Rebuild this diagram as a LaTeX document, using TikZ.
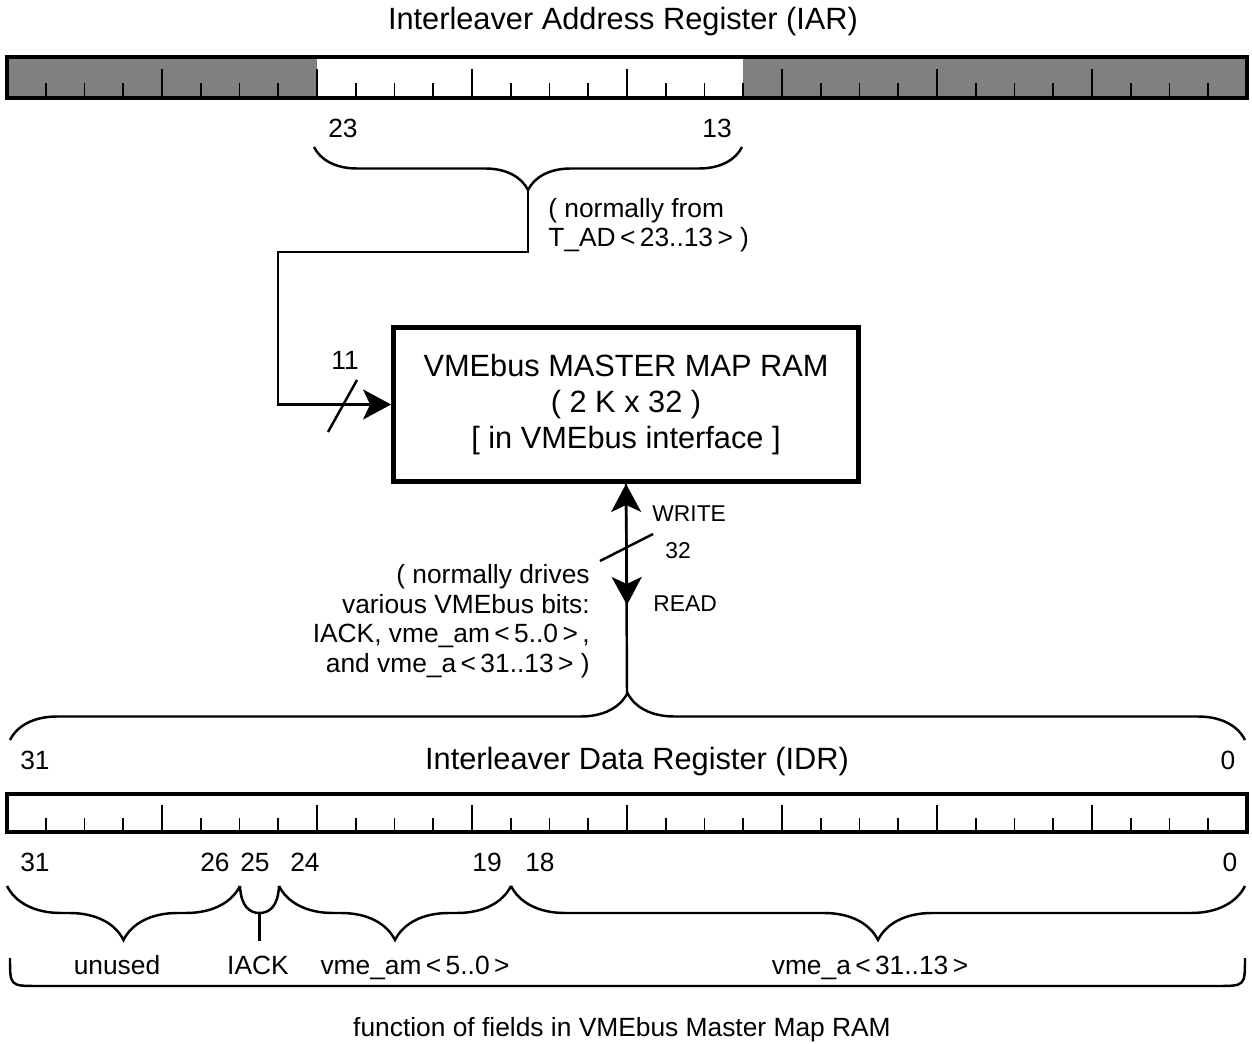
\documentclass[tikz,border=0pt]{standalone}
\usepackage{fontspec}
\setmainfont{Liberation Sans}
\usetikzlibrary{arrows.meta, positioning, decorations.pathreplacing, calc}

\begin{document}
\begin{tikzpicture}[
    x=0.02cm, y=-0.02cm,
    regframe/.style={line width=2.2pt},
    tick/.style={line width=1.1pt},
    shaded/.style={fill=black!50},
    bitlbl/.style={font=\fontsize{15}{17}\selectfont, inner sep=0pt},
    fieldlbl/.style={bitlbl, anchor=base},
    note/.style={font=\fontsize{15}{16.8}\selectfont, inner sep=0pt},
    title/.style={font=\fontsize{17.5}{20.5}\selectfont, inner sep=0pt},
    rwlbl/.style={font=\fontsize{13}{15}\selectfont, inner sep=0pt, anchor=west},
    rambox/.style={draw, line width=2.8pt, minimum width=9.3cm,
                   minimum height=3.08cm, align=center,
                   font=\fontsize{17.5}{20.5}\selectfont},
    wire/.style={line width=1.4pt},
    bracelw/.style={line width=1.4pt},
    braceup/.style={bracelw, decorate, decoration={brace, amplitude=#1}},
    braceup/.default=0.9cm,
    bracedn/.style={bracelw, decorate, decoration={brace, mirror, amplitude=#1}},
    bracedn/.default=0.9cm,
    >={Stealth[length=0.56cm, width=0.6cm, inset=0.14cm]}
  ]
  \useasboundingbox (0,0) rectangle (1252,1044);

  % address register
  \node[title] (iartitle) at (623,22) {Interleaver Address Register (IAR)};
  \fill[shaded] (7,57) rectangle (317,98);
  \fill[shaded] (743,57) rectangle (1247,98);
  \foreach \i in {1,...,31} {
    \pgfmathsetmacro{\tk}{mod(\i,4)==0 ? 29 : 15}
    \draw[tick] (7+\i*38.75,98) -- ++(0,-\tk);
  }
  \draw[regframe] (7,57) rectangle (1247,98);
  \node[bitlbl] (a23) at (343,128) {23};
  \node[bitlbl] (a13) at (717,128) {13};
  \draw[bracedn=0.86cm] (314,147) -- (742,147);
  \coordinate (iartip) at (528,190);
  \coordinate (jog) at (278,252);
  \node[note, anchor=west, align=left] (iarnote) at (548,225)
    {( normally from\\T\_AD\,<\,23..13\,>\ )};

  % map RAM
  \node[rambox] (ram) at (626,404.5)
    {VMEbus MASTER MAP RAM\\( 2 K x 32 )\\{}[ in VMEbus interface ]};
  \draw[wire,->] (iartip) |- (jog) |- (ram.west);
  \draw[wire] (328,432) -- (357,380);
  \node[bitlbl] (w11) at (345,360) {11};

  % data path
  \coordinate (idrtip) at (627,693);
  \coordinate (rdtip) at (627,605);
  \draw[wire,<-] (ram.south) -- (idrtip);
  \draw[wire,->] (ram.south) -- (rdtip);
  \draw[wire] (600,561) -- (653,534);
  \node[rwlbl] (wr) at (652,514) {WRITE};
  \node[rwlbl] (w32) at (665,551) {32};
  \node[rwlbl] (rd) at (653,604) {READ};
  \node[note, anchor=east, align=right] (idrnote) at (590,621)
    {( normally drives\\various VMEbus bits:\\IACK, vme\_am\,<\,5..0\,>\,,\\and vme\_a\,<\,31..13\,>\ )};

  % data register
  \draw[braceup=0.94cm] (10,740) -- (1245,740);
  \node[title] (idrtitle) at (637,762) {Interleaver Data Register (IDR)};
  \node[bitlbl] (t31) at (35,760) {31};
  \node[bitlbl] (t0) at (1228,760) {0};
  \foreach \i in {1,...,31} {
    \pgfmathsetmacro{\tk}{mod(\i,4)==0 ? 27 : 14}
    \draw[tick] (7+\i*38.75,832) -- ++(0,-\tk);
  }
  \draw[regframe] (7,794) rectangle (1247,832);
  \foreach \b/\x in {31/35, 26/215, 25/255, 24/305, 19/487, 18/540, 0/1230}
    \node[bitlbl] (b\b) at (\x,862) {\b};

  % fields
  \draw[bracedn=1.08cm] (7,886) -- (240,886);
  \draw[bracelw] (240,886) .. controls (241,907) and (250,913) .. (259.5,913)
    .. controls (269,913) and (278,907) .. (279,886);
  \draw[bracelw] (259.5,913) -- (259.5,941);
  \draw[bracedn=1.08cm] (279,886) -- (511,886);
  \draw[bracedn=1.08cm] (511,886) -- (1245,886);
  \node[fieldlbl] (funused) at (117,974) {unused};
  \node[fieldlbl] (fiack) at (258,974) {IACK};
  \node[fieldlbl] (fam) at (415,974) {vme\_am\,<\,5..0\,>};
  \node[fieldlbl] (fa) at (870,974) {vme\_a\,<\,31..13\,>};
  \draw[bracelw] (10,958) .. controls (10,986) .. (38,986) -- (1217,986)
    .. controls (1245,986) .. (1245,958);
  \node[bitlbl] (caption) at (622,1030) {function of fields in VMEbus Master Map RAM};
\end{tikzpicture}
\end{document}
